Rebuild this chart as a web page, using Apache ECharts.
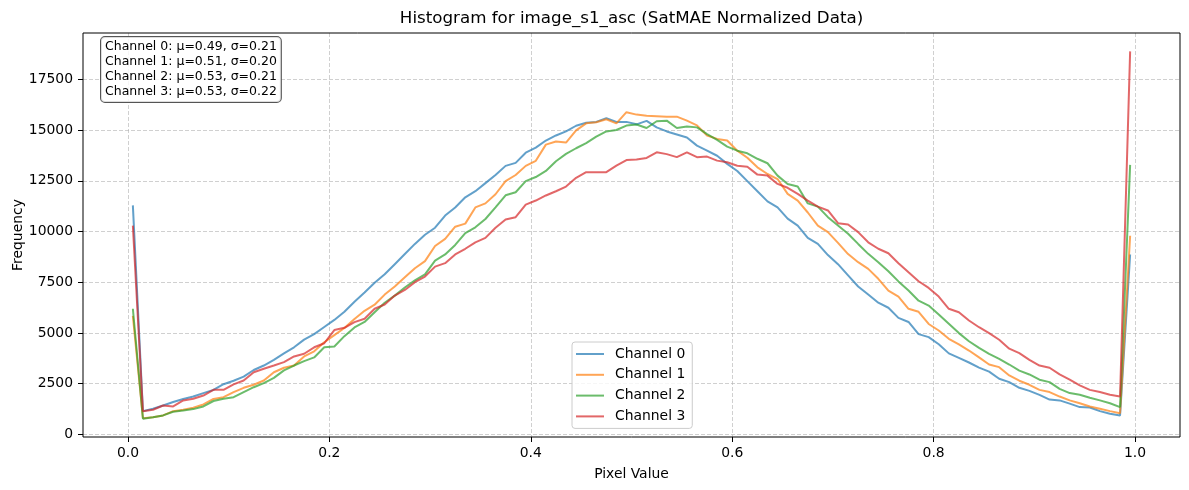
<!DOCTYPE html>
<html>
<head>
<meta charset="utf-8">
<script src="https://cdn.jsdelivr.net/npm/echarts@6/dist/echarts.min.js"></script>
<style>
html, body { margin: 0; padding: 0; background: #fff; }
#chart { width: 1189px; height: 490px; }
</style>
</head>
<body>
<div id="chart"></div>
<script>
var channelNames = ['Channel 0', 'Channel 1', 'Channel 2', 'Channel 3'];
var channelMu = ['0.49', '0.51', '0.53', '0.53'];
var channelSigma = ['0.21', '0.20', '0.21', '0.22'];
var xTicks = [0, 0.2, 0.4, 0.6, 0.8, 1.0];
var yTicks = [0, 2500, 5000, 7500, 10000, 12500, 15000, 17500];

// 100 bins over [0,1]
var binCount = 100;
var binCenters = [];
for (var i = 0; i < binCount; i++) {
    binCenters.push(+(0.005 + i * 0.01).toFixed(3));
}

var ch0 = [11300, 1150, 1270, 1430, 1600, 1750, 1870, 2040, 2200, 2480,
    2650, 2850, 3180, 3400, 3680, 4000, 4300, 4680, 4950, 5300,
    5650, 6050, 6550, 7000, 7480, 7900, 8400, 8900, 9400, 9850,
    10200, 10800, 11200, 11700, 12000, 12400, 12800, 13250, 13400, 13900,
    14150, 14500, 14750, 14950, 15230, 15380, 15420, 15600, 15420, 15420,
    15300, 15470, 15150, 14950, 14800, 14650, 14250, 14000, 13750, 13350,
    13000, 12500, 12000, 11500, 11200, 10650, 10300, 9700, 9400, 8850,
    8400, 7850, 7300, 6900, 6500, 6250, 5750, 5550, 4950, 4800,
    4450, 4000, 3780, 3550, 3300, 3100, 2750, 2580, 2300, 2150,
    1950, 1720, 1680, 1520, 1350, 1330, 1150, 1020, 940, 8880];
var ch1 = [5850, 800, 850, 940, 1150, 1220, 1320, 1480, 1750, 1840,
    2090, 2300, 2450, 2660, 3070, 3290, 3400, 3850, 4100, 4550,
    4900, 5250, 5700, 6100, 6400, 6900, 7300, 7750, 8200, 8550,
    9300, 9650, 10250, 10400, 11200, 11400, 11850, 12500, 12800, 13250,
    13500, 14300, 14450, 14400, 15000, 15350, 15400, 15550, 15350, 15900,
    15780, 15720, 15700, 15680, 15680, 15480, 15250, 14750, 14580, 14500,
    14000, 13650, 13180, 12850, 12600, 11870, 11540, 10950, 10300, 9980,
    9450, 8900, 8500, 8170, 7680, 7100, 6800, 6200, 6050, 5450,
    5130, 4720, 4440, 4140, 3800, 3450, 3320, 2910, 2650, 2450,
    2200, 2090, 1870, 1680, 1540, 1380, 1270, 1150, 1050, 9800];
var ch2 = [6200, 780, 850, 940, 1120, 1180, 1250, 1380, 1650, 1760,
    1840, 2090, 2330, 2530, 2790, 3160, 3400, 3620, 3800, 4300,
    4340, 4850, 5280, 5550, 6030, 6500, 6850, 7250, 7600, 7900,
    8580, 8880, 9350, 9930, 10220, 10630, 11200, 11800, 11950, 12500,
    12700, 13000, 13480, 13840, 14120, 14370, 14690, 14950, 15020, 15240,
    15290, 15120, 15450, 15480, 15120, 15190, 15150, 14820, 14530, 14200,
    14000, 13870, 13600, 13380, 12770, 12360, 12230, 11400, 11240, 10720,
    10310, 9900, 9400, 8910, 8500, 8050, 7550, 7100, 6600, 6360,
    5920, 5460, 5000, 4600, 4270, 3980, 3730, 3450, 3150, 2960,
    2700, 2580, 2250, 2040, 1960, 1810, 1680, 1540, 1350, 13300];
var ch3 = [10300, 1150, 1220, 1430, 1380, 1680, 1760, 1920, 2200, 2200,
    2470, 2660, 3070, 3240, 3400, 3570, 3850, 3980, 4300, 4500,
    5150, 5260, 5540, 5710, 6200, 6410, 6850, 7130, 7510, 7790,
    8280, 8450, 8880, 9160, 9480, 9700, 10200, 10600, 10720, 11340,
    11540, 11790, 12000, 12230, 12660, 12940, 12940, 12940, 13260, 13540,
    13560, 13640, 13920, 13830, 13680, 13920, 13680, 13710, 13510, 13430,
    13260, 13210, 12820, 12770, 12360, 12170, 11870, 11540, 11240, 11050,
    10420, 10360, 9980, 9480, 9160, 8940, 8450, 8000, 7560, 7230,
    6800, 6200, 6030, 5620, 5290, 5000, 4670, 4230, 4010, 3680,
    3400, 3290, 2960, 2700, 2420, 2200, 2090, 1960, 1870, 18900];
var channelData = [ch0, ch1, ch2, ch3];

var colorList = ['rgba(31,119,180,0.7)', 'rgba(255,127,14,0.7)', 'rgba(44,160,44,0.7)', 'rgba(214,39,40,0.7)'];
var FONT = '"DejaVu Sans", "Liberation Sans", sans-serif';
var gridLine = { show: true, lineStyle: { color: 'rgba(176,176,176,0.6)', type: [4, 2], width: 1 } };

var series = [];
for (var c = 0; c < channelData.length; c++) {
    var pts = [];
    for (var k = 0; k < binCenters.length; k++) {
        pts.push([binCenters[k], channelData[c][k]]);
    }
    series.push({
        name: channelNames[c],
        type: 'line',
        xAxisIndex: 0,
        yAxisIndex: 0,
        data: pts,
        symbol: 'none',
        showSymbol: false,
        color: colorList[c],
        lineStyle: { width: 2, color: colorList[c] },
        z: 3 + c
    });
}

var statLines = [];
for (var s = 0; s < channelNames.length; s++) {
    statLines.push(channelNames[s] + ': μ=' + channelMu[s] + ', σ=' + channelSigma[s]);
}

var chart = echarts.init(document.getElementById('chart'));
chart.setOption({
    animation: false,
    backgroundColor: '#fff',
    grid: [
        // data area with frame
        { left: 83, right: 9, top: 33, bottom: 53, show: true, borderColor: '#000', borderWidth: 1, backgroundColor: 'transparent', outerBoundsMode: 'none', z: 5 },
        // x ticks (0..1)
        { left: 128, right: 54, top: 33, bottom: 53, outerBoundsMode: 'none' },
        // y ticks (0..17500)
        { left: 83, right: 9, top: 79.3, bottom: 55.6, outerBoundsMode: 'none' }
    ],
    xAxis: [
        {
            gridIndex: 0, type: 'value', min: -0.0445, max: 1.0445,
            axisLine: { show: false }, axisTick: { show: false }, axisLabel: { show: false }, splitLine: { show: false },
            name: 'Pixel Value', nameLocation: 'middle', nameGap: 30,
            nameTextStyle: { fontFamily: FONT, fontSize: 13.9, color: '#000' }
        },
        {
            gridIndex: 1, type: 'value', min: xTicks[0], max: xTicks[xTicks.length - 1], interval: 0.2,
            axisLine: { show: false },
            axisTick: { show: true, length: 5, lineStyle: { color: '#000', width: 1 } },
            axisLabel: { margin: 9, fontFamily: FONT, fontSize: 13.9, color: '#000', formatter: function (v) { return v.toFixed(1); } },
            splitLine: gridLine
        },
        { gridIndex: 2, type: 'value', min: 0, max: 1, show: false }
    ],
    yAxis: [
        {
            gridIndex: 0, type: 'value', min: -126, max: 19806,
            axisLine: { show: false }, axisTick: { show: false }, axisLabel: { show: false }, splitLine: { show: false },
            name: 'Frequency', nameLocation: 'middle', nameGap: 58,
            nameTextStyle: { fontFamily: FONT, fontSize: 13.9, color: '#000' }
        },
        { gridIndex: 1, type: 'value', min: 0, max: 1, show: false },
        {
            gridIndex: 2, type: 'value', min: yTicks[0], max: yTicks[yTicks.length - 1], interval: 2500,
            axisLine: { show: false },
            axisTick: { show: true, length: 5, lineStyle: { color: '#000', width: 1 } },
            axisLabel: { margin: 10, fontFamily: FONT, fontSize: 13.9, color: '#000', formatter: function (v) { return String(v); } },
            splitLine: gridLine
        }
    ],
    legend: {
        data: channelNames,
        orient: 'vertical',
        left: 572,
        top: 342,
        icon: 'rect',
        itemWidth: 28,
        itemHeight: 2,
        itemGap: 6.8,
        padding: [5, 7, 5, 4],
        backgroundColor: 'rgba(255,255,255,0.8)',
        borderColor: '#cccccc',
        borderWidth: 1,
        borderRadius: 3,
        textStyle: { fontFamily: FONT, fontSize: 13.9, color: '#000', lineHeight: 14, padding: [0, 0, 0, 6] }
    },
    graphic: [
        {
            type: 'text', x: 631.5, y: 19, z: 100,
            style: {
                text: 'Histogram for image_s1_asc (SatMAE Normalized Data)',
                font: '16.7px ' + FONT, fill: '#000', textAlign: 'center', textVerticalAlign: 'middle'
            }
        },
        {
            type: 'text', x: 101, y: 37, z: 100,
            style: {
                text: statLines.join('\n'),
                font: '12.5px ' + FONT, fill: '#000', lineHeight: 15,
                backgroundColor: 'rgba(255,255,255,0.8)', borderColor: '#555', borderWidth: 1, borderRadius: 4,
                padding: [2, 4, 3, 4]
            }
        }
    ],
    series: series
});
</script>
</body>
</html>
